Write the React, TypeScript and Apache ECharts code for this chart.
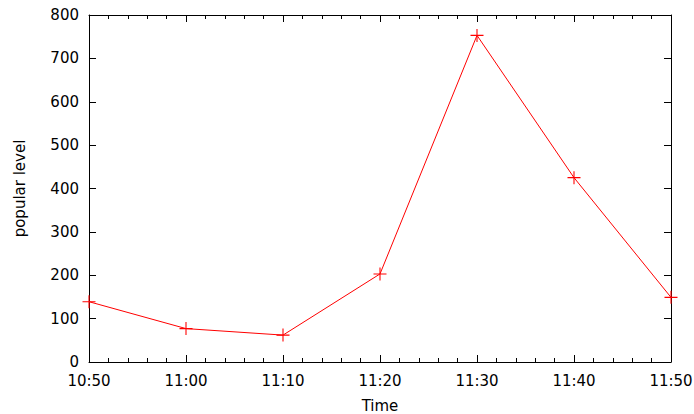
import React, { useEffect, useRef } from "react";
import * as echarts from "echarts";

// minutes of the day: 10:50 .. 11:50
const times = [650, 660, 670, 680, 690, 700, 710];
const popularLevel = [139, 77, 62, 203, 753, 425, 149];
const xTitle = "Time";
const yTitle = "popular level";

const fmt = (v: number) => {
  const h = Math.floor(v / 60);
  const m = v % 60;
  return `${h}:${m < 10 ? "0" + m : m}`;
};

const FONT = "DejaVu Sans";

export default function App() {
  const ref = useRef<HTMLDivElement>(null);
  useEffect(() => {
    if (!ref.current) return;
    const chart = echarts.init(ref.current, undefined, { renderer: "svg" });
    const axisLine = { show: true, onZero: false, lineStyle: { color: "#000", width: 1 } };
    const xCommon = {
      type: "value" as const,
      min: 650,
      max: 710,
      interval: 10,
      axisLine,
      axisTick: { show: true, inside: true, length: 7, lineStyle: { color: "#000" } },
      minorTick: { show: true, splitNumber: 5, length: 4, lineStyle: { color: "#000" } },
      splitLine: { show: false },
    };
    const yCommon = {
      type: "value" as const,
      min: 0,
      max: 800,
      interval: 100,
      axisLine,
      axisTick: { show: true, inside: true, length: 7, lineStyle: { color: "#000" } },
      splitLine: { show: false },
    };
    chart.setOption({
      animation: false,
      backgroundColor: "#fff",
      textStyle: { fontFamily: FONT },
      grid: { left: 89, right: 23, top: 15, bottom: 52, outerBoundsMode: "none", containLabel: false },
      xAxis: [
        {
          ...xCommon,
          position: "bottom",
          axisLabel: { formatter: fmt, fontSize: 15, color: "#000", margin: 11, fontFamily: FONT },
          name: xTitle,
          nameLocation: "middle",
          nameGap: 36,
          nameTextStyle: { fontSize: 15, color: "#000", fontFamily: FONT },
        },
        { ...xCommon, position: "top", axisLabel: { show: false } },
      ],
      yAxis: [
        {
          ...yCommon,
          position: "left",
          axisLabel: { fontSize: 15, color: "#000", margin: 10, fontFamily: FONT },
          name: yTitle,
          nameLocation: "middle",
          nameGap: 62,
          nameTextStyle: { fontSize: 15, color: "#000", fontFamily: FONT },
        },
        { ...yCommon, position: "right", axisLabel: { show: false } },
      ],
      series: [
        {
          type: "line",
          xAxisIndex: 0,
          yAxisIndex: 0,
          data: times.map((t, i) => [t, popularLevel[i]]),
          lineStyle: { color: "#ff0000", width: 1 },
          itemStyle: { color: "#ff0000" },
          symbol: "path://M0,5.5h12v1h-12z M5.5,0h1v12h-1z",
          symbolSize: 13,
          showSymbol: true,
          clip: false,
        },
      ],
    });
    return () => chart.dispose();
  }, []);
  return <div ref={ref} style={{ width: 694, height: 414, position: "absolute", left: 0, top: 0 }} />;
}
